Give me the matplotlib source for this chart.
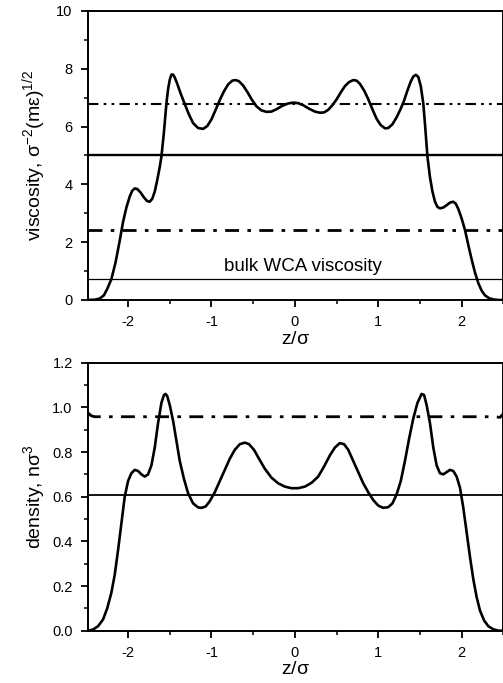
import matplotlib
matplotlib.use('Agg')
import matplotlib.pyplot as plt
from matplotlib.ticker import MultipleLocator

# viscosity profile (top panel)
visc_z = [-2.48, -2.40, -2.34, -2.29, -2.25, -2.20, -2.15, -2.10, -2.06, -2.02, -1.98, -1.95,
          -1.92, -1.89, -1.85, -1.81, -1.77, -1.74, -1.71, -1.68, -1.65, -1.62, -1.60, -1.57,
          -1.54, -1.52, -1.50, -1.48, -1.46, -1.44, -1.41, -1.37, -1.32, -1.27, -1.22, -1.16,
          -1.10, -1.05, -1.00, -0.95, -0.90, -0.85, -0.80, -0.75, -0.71, -0.67, -0.62, -0.57,
          -0.52, -0.46, -0.40, -0.34, -0.28, -0.22, -0.15, -0.08, -0.02,
          0.04, 0.10, 0.17, 0.24, 0.30, 0.35, 0.40, 0.45, 0.50, 0.55, 0.60, 0.65, 0.70, 0.74,
          0.78, 0.83, 0.88, 0.93, 0.98, 1.03, 1.08, 1.12, 1.17, 1.22, 1.27, 1.31, 1.35, 1.39,
          1.42, 1.45, 1.48, 1.51, 1.54, 1.56, 1.59, 1.62, 1.65, 1.68, 1.71, 1.74, 1.78, 1.82,
          1.86, 1.90, 1.93, 1.96, 2.00, 2.04, 2.08, 2.12, 2.16, 2.20, 2.24, 2.28, 2.33, 2.38,
          2.44, 2.50]
visc_v = [0.0, 0.01, 0.05, 0.16, 0.38, 0.72, 1.3, 2.05, 2.7, 3.2, 3.58, 3.78,
          3.86, 3.84, 3.72, 3.55, 3.42, 3.40, 3.5, 3.75, 4.15, 4.6, 4.96, 5.8,
          6.8, 7.3, 7.62, 7.8, 7.8, 7.7, 7.48, 7.15, 6.78, 6.42, 6.12, 5.95,
          5.92, 6.02, 6.25, 6.58, 6.92, 7.22, 7.46, 7.59, 7.61, 7.57, 7.42, 7.2,
          6.95, 6.7, 6.56, 6.51, 6.52, 6.6, 6.72, 6.8, 6.83,
          6.81, 6.74, 6.62, 6.52, 6.48, 6.49, 6.58, 6.74, 6.94, 7.18, 7.4, 7.54, 7.61, 7.59,
          7.48, 7.25, 6.95, 6.6, 6.27, 6.05, 5.94, 5.95, 6.08, 6.32, 6.62, 6.9, 7.25, 7.56,
          7.73, 7.79, 7.72, 7.4, 6.8, 6.1, 4.96, 4.25, 3.75, 3.4, 3.22, 3.17, 3.2, 3.28,
          3.37, 3.40, 3.33, 3.15, 2.82, 2.42, 1.9, 1.4, 0.95, 0.58, 0.32, 0.16, 0.06, 0.02,
          0.0, 0.0]

visc_upper = 6.78
visc_mid = 5.0
visc_lower = 2.42
visc_bulk = 0.72

# density profile (bottom panel)
dens_z = [-2.48, -2.42, -2.36, -2.30, -2.25, -2.20, -2.16, -2.12, -2.08, -2.04, -2.00, -1.96,
          -1.92, -1.88, -1.84, -1.80, -1.76, -1.72, -1.68, -1.64, -1.60, -1.57, -1.55, -1.53,
          -1.50, -1.46, -1.42, -1.38, -1.33, -1.28, -1.22, -1.16, -1.12, -1.07, -1.02, -0.96,
          -0.90, -0.84, -0.78, -0.72, -0.66, -0.60, -0.55, -0.49, -0.43, -0.36, -0.28, -0.20,
          -0.12, -0.04, 0.04, 0.12, 0.20, 0.28, 0.35, 0.42, 0.48, 0.54, 0.59, 0.64, 0.70, 0.76,
          0.82, 0.88, 0.94, 1.00, 1.06, 1.12, 1.17, 1.22, 1.27, 1.32, 1.37, 1.42, 1.47, 1.52,
          1.55, 1.58, 1.62, 1.66, 1.70, 1.74, 1.78, 1.82, 1.86, 1.90, 1.94, 1.98, 2.02, 2.06,
          2.10, 2.14, 2.18, 2.22, 2.27, 2.32, 2.38, 2.44, 2.50]
dens_r = [0.0, 0.005, 0.02, 0.05, 0.1, 0.17, 0.25, 0.36, 0.48, 0.6, 0.67, 0.705,
          0.72, 0.715, 0.70, 0.69, 0.70, 0.74, 0.82, 0.93, 1.02, 1.055, 1.06, 1.05,
          1.01, 0.94, 0.85, 0.76, 0.68, 0.615, 0.57, 0.552, 0.55, 0.556, 0.58, 0.62,
          0.67, 0.72, 0.77, 0.81, 0.835, 0.842, 0.835, 0.81, 0.77, 0.725, 0.685, 0.66,
          0.645, 0.638, 0.638, 0.645, 0.662, 0.69, 0.735, 0.785, 0.82, 0.84, 0.835, 0.81, 0.76, 0.71,
          0.66, 0.62, 0.585, 0.56, 0.55, 0.553, 0.57, 0.61, 0.67, 0.76, 0.86, 0.95, 1.02, 1.06,
          1.055, 1.01, 0.93, 0.82, 0.74, 0.705, 0.70, 0.71, 0.72, 0.715, 0.69, 0.64, 0.55, 0.44,
          0.33, 0.23, 0.15, 0.09, 0.045, 0.02, 0.006, 0.0, 0.0]

dens_dd_z = [-2.48, -2.44, -2.40, 2.40, 2.46, 2.50]
dens_dd_r = [0.975, 0.962, 0.958, 0.958, 0.955, 0.972]
dens_bulk = 0.607

plt.rcParams.update({
    'font.family': ['Liberation Sans', 'DejaVu Sans'],
    'axes.unicode_minus': False,
    'font.size': 10,
    'axes.linewidth': 1.4,
})

fig = plt.figure(figsize=(5.03, 6.83), dpi=100)
ax1 = fig.add_axes([0.175, 0.5608, 0.8257, 0.4231])
ax2 = fig.add_axes([0.175, 0.0766, 0.8257, 0.3924])

ax1.plot(visc_z, visc_v, color='black', lw=1.9)
ax1.axhline(visc_upper, color='black', lw=1.5, ls=(0, (5, 2.5, 1.3, 2.5, 1.3, 2.5)))
ax1.axhline(visc_mid, color='black', lw=1.7)
ax1.axhline(visc_lower, color='black', lw=2.0, ls=(0, (5, 3, 1.3, 3)))
ax1.axhline(visc_bulk, color='black', lw=0.9)
ax1.text(0.1, 0.85, 'bulk WCA viscosity', ha='center', va='bottom', fontsize=13.5)
ax1.set_ylim(0, 10)
ax1.yaxis.set_major_locator(MultipleLocator(2))
ax1.yaxis.set_minor_locator(MultipleLocator(1))
ax1.set_ylabel(r'viscosity, $\mathregular{\sigma^{-2}(m\epsilon)^{1/2}}$', fontsize=14, labelpad=6)

ax2.plot(dens_z, dens_r, color='black', lw=1.9)
ax2.plot(dens_dd_z, dens_dd_r, color='black', lw=2.0, ls=(0, (5, 3, 1.3, 3)))
ax2.axhline(dens_bulk, color='black', lw=1.3)
ax2.set_ylim(0, 1.2)
ax2.yaxis.set_major_locator(MultipleLocator(0.2))
ax2.yaxis.set_minor_locator(MultipleLocator(0.1))
ax2.yaxis.set_major_formatter(plt.FormatStrFormatter('%.1f'))
ax2.set_ylabel(r'density, n$\mathregular{\sigma^3}$', fontsize=14, labelpad=4)

for ax in (ax1, ax2):
    ax.set_xlim(-2.48, 2.5)
    ax.xaxis.set_major_locator(MultipleLocator(1))
    ax.xaxis.set_minor_locator(MultipleLocator(0.5))
    ax.tick_params(which='major', direction='out', length=5, width=1.3, labelsize=10.5, pad=6)
    ax.tick_params(which='minor', direction='out', length=3, width=1.1)
    ax.set_xlabel(r'z/$\mathregular{\sigma}$', fontsize=14, labelpad=1)

fig.savefig('out.png', dpi=100)
